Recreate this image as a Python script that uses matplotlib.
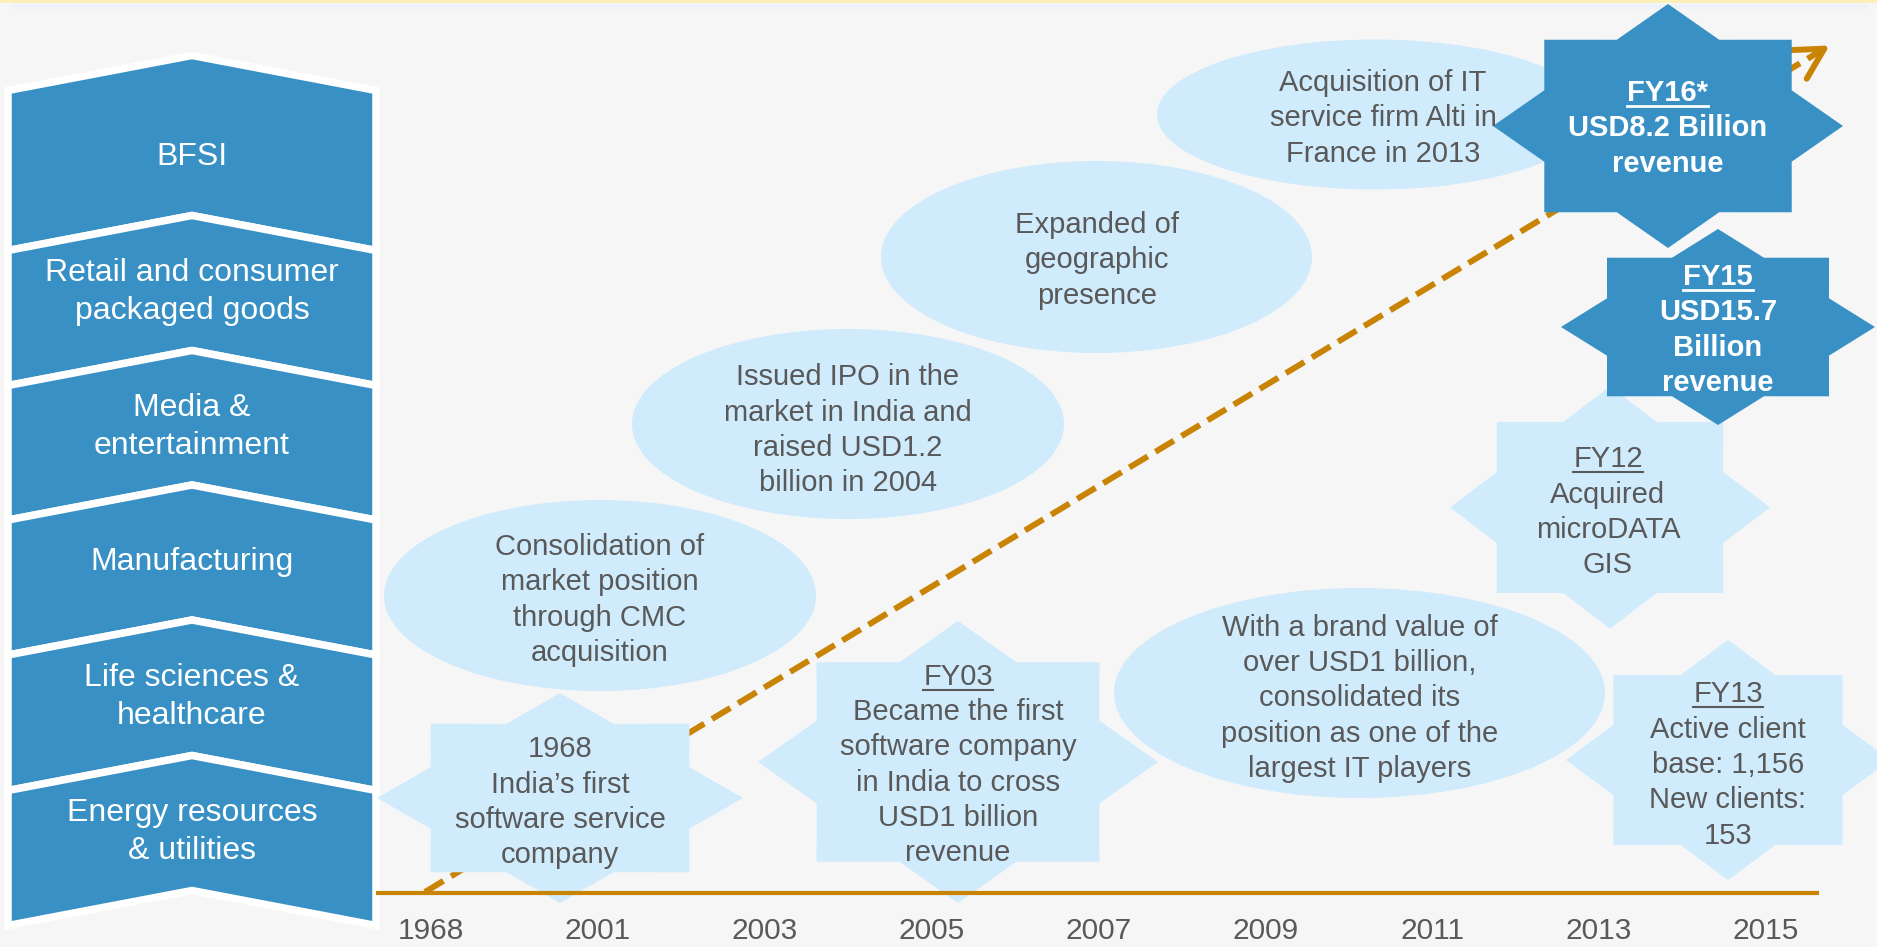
import numpy as np
import matplotlib.pyplot as plt
from matplotlib.patches import Polygon, Ellipse, Rectangle

plt.rcParams['font.family'] = ['Liberation Sans', 'DejaVu Sans']

# ---------------- data (text content) ----------------
years = ['1968', '2001', '2003', '2005', '2007', '2009', '2011', '2013', '2015']

sectors = ['BFSI',
           'Retail and consumer\npackaged goods',
           'Media &\nentertainment',
           'Manufacturing',
           'Life sciences &\nhealthcare',
           'Energy resources\n& utilities']

oval_notes = ['Consolidation of\nmarket position\nthrough CMC\nacquisition',
              'Issued IPO in the\nmarket in India and\nraised USD1.2\nbillion in 2004',
              'Expanded of\ngeographic\npresence',
              'Acquisition of IT\nservice firm Alti in\nFrance in 2013',
              'With a brand value of\nover USD1 billion,\nconsolidated its\nposition as one of the\nlargest IT players']

star_heads = ['', 'FY03', 'FY12', 'FY13']
star_notes = ['1968\nIndia\u2019s first\nsoftware service\ncompany',
              'Became the first\nsoftware company\nin India to cross\nUSD1 billion\nrevenue',
              'Acquired\nmicroDATA\nGIS',
              'Active client\nbase: 1,156\nNew clients:\n153']

rev_heads = ['FY16*', 'FY15']
rev_notes = ['USD8.2 Billion\nrevenue', 'USD15.7\nBillion\nrevenue']

# ---------------- layout (pixel space of the 1877x947 canvas) ----------------
W, H = 1877, 947
chev_bounds = [90.5, 250.5, 385.5, 520, 655, 790.5, 925.5]
chev_text_y = [154, 289, 424, 559, 694, 829]
oval_geo = [(600, 595.5, 432, 191), (848, 424, 432, 190), (1096.5, 257, 431, 192),
            (1375, 114.5, 436, 150), (1359.5, 693, 491, 210)]
oval_text = [(600, 597.5), (848, 428), (1097, 258), (1383, 116), (1360, 696)]
star_geo = [(560, 798, 183, 105), (958, 762, 200, 141), (1610, 507.5, 160, 121), (1728, 760, 162, 120)]
star_text = [(560, 800), (958, 762.5), (1608, 510), (1728, 762.5)]
rev_geo = [(1668, 126, 175, 122), (1718, 327, 157, 98)]
rev_text = [(1668, 126), (1718, 327.5)]

DARK = '#3890C5'
LIGHT = '#CFEBFC'
GREY = '#595959'
ORANGE = '#C98305'
BG = '#F6F6F6'

fig = plt.figure(figsize=(W / 100, H / 100), dpi=100, facecolor=BG)
ax = fig.add_axes([0, 0, 1, 1])
ax.set_xlim(0, W)
ax.set_ylim(H, 0)
ax.axis('off')

# faint slide border at the top
ax.add_patch(Rectangle((0, 0), W, 3, color='#FCEFB8', lw=0, zorder=0))
ax.add_patch(Rectangle((10, 4), W - 20, 5, color='#EEF3FA', lw=0, zorder=0))


def star8(cx, cy, a, b, color, z):
    pts = []
    for k in range(16):
        ang = np.pi / 2 - k * np.pi / 8
        r = 1.0 if k % 2 == 0 else 0.765
        pts.append((cx + a * r * np.cos(ang), cy - b * r * np.sin(ang)))
    ax.add_patch(Polygon(pts, closed=True, fc=color, ec='none', zorder=z))


underlines = []


def put_lines(x, yc, lines, color, size, weight='normal', pitch=35.5, head=None):
    if head:
        lines = [head] + lines
    n = len(lines)
    cap = 0.716 * size * 100 / 72
    for i, s in enumerate(lines):
        y = yc + (i - (n - 1) / 2) * pitch
        t = ax.text(x, y + cap / 2, s, ha='center', va='baseline', color=color,
                    fontsize=size, fontweight=weight, zorder=6)
        if head and i == 0:
            underlines.append((t, color, y + cap / 2 + 5, 1.5 if weight == 'normal' else 2))


# sector chevrons
x0, x1, tip = 8, 376, 35
xm = (x0 + x1) / 2
for k, label in enumerate(sectors):
    yt, yb = chev_bounds[k], chev_bounds[k + 1]
    pts = [(x0, yt), (xm, yt - tip), (x1, yt), (x1, yb), (xm, yb - tip), (x0, yb)]
    ax.add_patch(Polygon(pts, closed=True, fc=DARK, ec='white', lw=5.4,
                         joinstyle='miter', zorder=2))
    put_lines(xm, chev_text_y[k], label.split('\n'), 'white', 23, pitch=38)

# dashed growth arrow
start, end = np.array([425, 892]), np.array([1832, 44])
u = (end - start) / np.linalg.norm(end - start)
stop = end - u * 14
ax.plot([start[0], stop[0]], [start[1], stop[1]], color=ORANGE, lw=4.3,
        dashes=(3.6, 1.5), solid_capstyle='butt', dash_capstyle='butt', zorder=1)
ax.annotate('', xy=tuple(end), xytext=tuple(end - u * 16),
            arrowprops=dict(arrowstyle='->, head_length=1.1, head_width=0.6',
                            color=ORANGE, lw=4.3, mutation_scale=20), zorder=1)

# milestone ovals
for (cx, cy, w, h), (tx, ty), note in zip(oval_geo, oval_text, oval_notes):
    ax.add_patch(Ellipse((cx, cy), w, h, fc=LIGHT, ec='none', zorder=2))
    put_lines(tx, ty, note.split('\n'), GREY, 21, pitch=35.3)

# milestone stars
for (cx, cy, a, b), (tx, ty), hd, note in zip(star_geo, star_text, star_heads, star_notes):
    star8(cx, cy, a, b, LIGHT, 3)
    put_lines(tx, ty, note.split('\n'), GREY, 21, pitch=35.3, head=hd or None)

# revenue stars
for (cx, cy, a, b), (tx, ty), hd, note in zip(rev_geo, rev_text, rev_heads, rev_notes):
    star8(cx, cy, a, b, DARK, 4)
    put_lines(tx, ty, note.split('\n'), 'white', 21, weight='bold', pitch=35.5, head=hd)

# timeline axis
tl = fig.add_axes([378 / W, (H - 893) / H, (1817 - 378) / W, 0.01])
tl.set_facecolor('none')
for s in ['top', 'left', 'right']:
    tl.spines[s].set_visible(False)
tl.spines['bottom'].set_color(ORANGE)
tl.spines['bottom'].set_linewidth(3)
tl.set_xlim(-53 / 166.9, 8 + 51 / 166.9)
tl.set_xticks(range(len(years)), years)
tl.set_yticks([])
tl.tick_params(axis='x', length=0, pad=17.5, labelsize=21.5, labelcolor=GREY)

# underline the headings
fig.canvas.draw()
r = fig.canvas.get_renderer()
for t, c, y, lw in underlines:
    bb = t.get_window_extent(r)
    ax.plot([bb.x0, bb.x1], [y, y], color=c, lw=lw, zorder=6)

fig.savefig('out.png', dpi=100, facecolor=BG)
